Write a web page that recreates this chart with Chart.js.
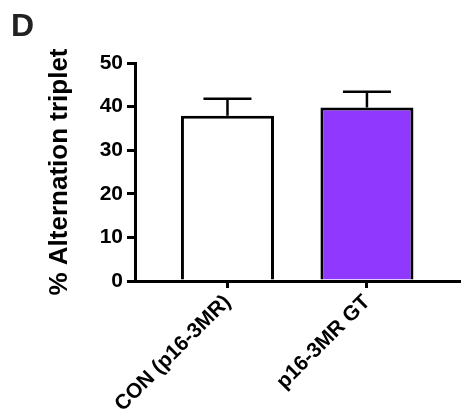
<!DOCTYPE html>
<html>
<head>
<meta charset="utf-8">
<script src="https://cdn.jsdelivr.net/npm/chart.js@4/dist/chart.umd.min.js"></script>
<style>
  html, body { margin: 0; padding: 0; background: #fff; }
  #wrap { position: relative; width: 474px; height: 410px; }
  #panel {
    position: absolute; left: 11px; top: 7px;
    font: bold 32px "Liberation Sans", Arial, sans-serif; color: #222;
  }
</style>
</head>
<body>
<div id="wrap">
  <canvas id="chart" width="474" height="410"></canvas>
  <div id="panel">D</div>
</div>
<script>
// group names, means and SEM (upper bar only)
const categories = ['CON (p16-3MR)', 'p16-3MR GT'];
const means = [37.9, 39.8];
const sems = [3.9, 3.6];
const fills = ['#ffffff', '#9138ff'];
const yTicks = [0, 10, 20, 30, 40, 50];

const FONT = '"Liberation Sans", Arial, sans-serif';

// one-sided error bars drawn over each bar
const errorBars = {
  id: 'errorBars',
  afterDatasetsDraw(chart) {
    const { ctx, scales: { y } } = chart;
    const meta = chart.getDatasetMeta(0);
    ctx.save();
    ctx.strokeStyle = '#000';
    ctx.lineWidth = 2.5;
    meta.data.forEach((bar, i) => {
      const top = y.getPixelForValue(means[i] + sems[i]);
      ctx.beginPath();
      ctx.moveTo(bar.x, bar.y);
      ctx.lineTo(bar.x, top);
      ctx.moveTo(bar.x - 24, top);
      ctx.lineTo(bar.x + 24, top);
      ctx.stroke();
    });
    ctx.restore();
  }
};

new Chart(document.getElementById('chart'), {
  type: 'bar',
  data: {
    datasets: [{
      data: means.map((m, i) => ({ x: i, y: m })),
      backgroundColor: fills,
      borderColor: '#000',
      borderWidth: 3,
      borderSkipped: 'bottom',
      categoryPercentage: 1,
      barPercentage: 0.667
    }]
  },
  options: {
    responsive: false,
    animation: false,
    layout: { padding: { left: 44, top: 63, right: 15, bottom: 0 } },
    plugins: { legend: { display: false }, tooltip: { enabled: false } },
    scales: {
      x: {
        type: 'linear',
        min: -0.663,
        max: 1.66,
        offset: false,
        afterBuildTicks: (scale) => { scale.ticks = categories.map((_, i) => ({ value: i })); },
        afterFit: (scale) => { scale.height = 129; },
        border: { display: true, color: '#000', width: 3 },
        grid: { display: true, offset: false, drawOnChartArea: false, drawTicks: true, tickLength: 7, lineWidth: 3, color: '#000' },
        ticks: {
          color: '#000',
          font: { family: FONT, size: 21, weight: 'bold' },
          minRotation: 45,
          maxRotation: 45,
          padding: 2,
          callback: (v) => categories[v]
        }
      },
      y: {
        min: 0,
        max: 50,
        afterBuildTicks: (scale) => { scale.ticks = yTicks.map(v => ({ value: v })); },
        afterFit: (scale) => { scale.width = 91; },
        border: { display: true, color: '#000', width: 3 },
        grid: { display: true, drawOnChartArea: false, drawTicks: true, tickLength: 8, lineWidth: 3, color: '#000' },
        ticks: {
          color: '#000',
          font: { family: FONT, size: 21, weight: 'bold' },
          padding: 4
        },
        title: {
          display: true,
          text: '% Alternation triplet',
          color: '#000',
          font: { family: FONT, size: 26, weight: 'bold' },
          padding: 0
        }
      }
    }
  },
  plugins: [errorBars]
});
</script>
</body>
</html>
